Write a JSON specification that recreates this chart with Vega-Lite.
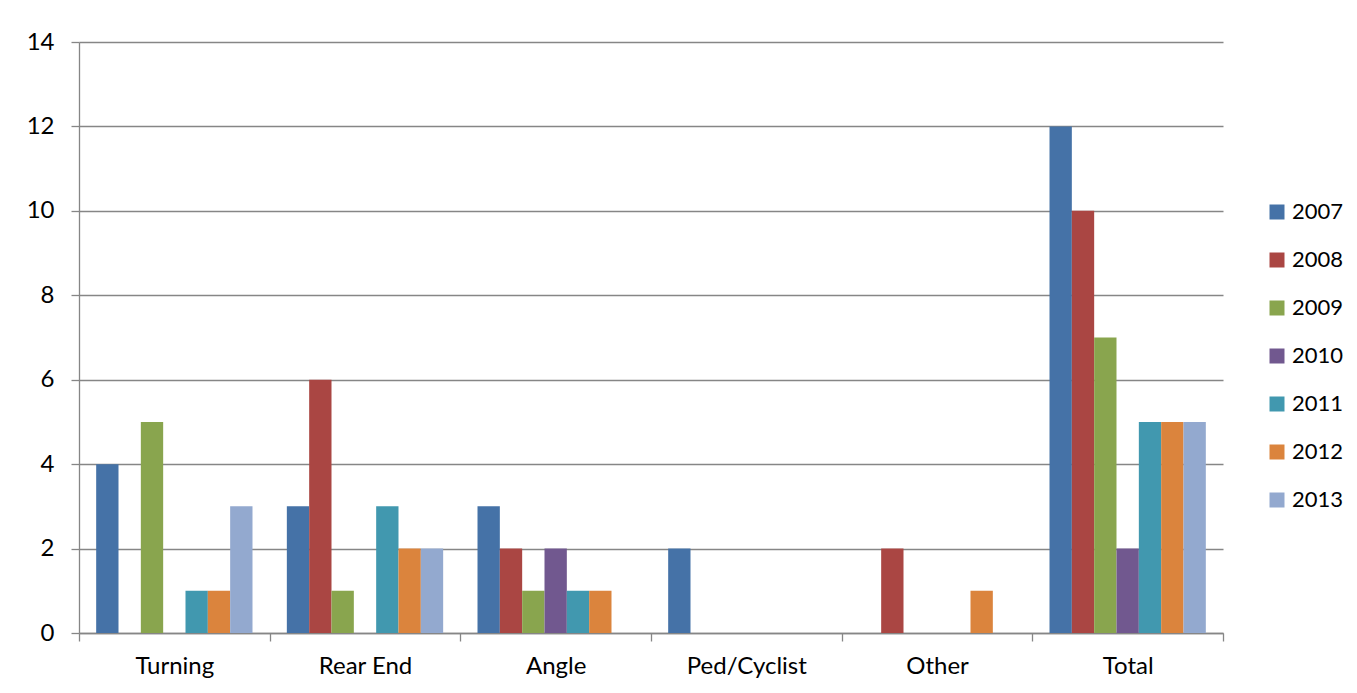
{
  "$schema": "https://vega.github.io/schema/vega-lite/v6.json",
  "width": 1144,
  "height": 591,
  "autosize": {"type": "none"},
  "padding": {"left": 79, "top": 42, "right": 134, "bottom": 60},
  "background": "white",
  "config": {
    "view": {"stroke": null},
    "font": "Lato",
    "axis": {"labelFont": "Lato", "labelColor": "#000000", "domainColor": "#868686", "tickColor": "#868686", "gridColor": "#868686", "domainWidth": 1.3, "tickWidth": 1.3, "gridWidth": 1.3}
  },
  "data": {
    "values": [
      {"cat": "Turning", "year": "2007", "v": 4},
      {"cat": "Turning", "year": "2008", "v": 0},
      {"cat": "Turning", "year": "2009", "v": 5},
      {"cat": "Turning", "year": "2010", "v": 0},
      {"cat": "Turning", "year": "2011", "v": 1},
      {"cat": "Turning", "year": "2012", "v": 1},
      {"cat": "Turning", "year": "2013", "v": 3},
      {"cat": "Rear End", "year": "2007", "v": 3},
      {"cat": "Rear End", "year": "2008", "v": 6},
      {"cat": "Rear End", "year": "2009", "v": 1},
      {"cat": "Rear End", "year": "2010", "v": 0},
      {"cat": "Rear End", "year": "2011", "v": 3},
      {"cat": "Rear End", "year": "2012", "v": 2},
      {"cat": "Rear End", "year": "2013", "v": 2},
      {"cat": "Angle", "year": "2007", "v": 3},
      {"cat": "Angle", "year": "2008", "v": 2},
      {"cat": "Angle", "year": "2009", "v": 1},
      {"cat": "Angle", "year": "2010", "v": 2},
      {"cat": "Angle", "year": "2011", "v": 1},
      {"cat": "Angle", "year": "2012", "v": 1},
      {"cat": "Angle", "year": "2013", "v": 0},
      {"cat": "Ped/Cyclist", "year": "2007", "v": 2},
      {"cat": "Ped/Cyclist", "year": "2008", "v": 0},
      {"cat": "Ped/Cyclist", "year": "2009", "v": 0},
      {"cat": "Ped/Cyclist", "year": "2010", "v": 0},
      {"cat": "Ped/Cyclist", "year": "2011", "v": 0},
      {"cat": "Ped/Cyclist", "year": "2012", "v": 0},
      {"cat": "Ped/Cyclist", "year": "2013", "v": 0},
      {"cat": "Other", "year": "2007", "v": 0},
      {"cat": "Other", "year": "2008", "v": 2},
      {"cat": "Other", "year": "2009", "v": 0},
      {"cat": "Other", "year": "2010", "v": 0},
      {"cat": "Other", "year": "2011", "v": 0},
      {"cat": "Other", "year": "2012", "v": 1},
      {"cat": "Other", "year": "2013", "v": 0},
      {"cat": "Total", "year": "2007", "v": 12},
      {"cat": "Total", "year": "2008", "v": 10},
      {"cat": "Total", "year": "2009", "v": 7},
      {"cat": "Total", "year": "2010", "v": 2},
      {"cat": "Total", "year": "2011", "v": 5},
      {"cat": "Total", "year": "2012", "v": 5},
      {"cat": "Total", "year": "2013", "v": 5}
    ]
  },
  "mark": {"type": "bar"},
  "encoding": {
    "x": {
      "field": "cat",
      "type": "nominal",
      "sort": ["Turning", "Rear End", "Angle", "Ped/Cyclist", "Other", "Total"],
      "scale": {"paddingInner": 0, "paddingOuter": 0},
      "axis": {"title": null, "labelAngle": 0, "labelFontSize": 24, "labelPadding": 13, "tickBand": "extent", "tickSize": 8, "grid": false}
    },
    "xOffset": {
      "field": "year",
      "type": "nominal",
      "scale": {"paddingInner": 0, "paddingOuter": 0.769}
    },
    "y": {
      "field": "v",
      "type": "quantitative",
      "scale": {"domain": [0, 14], "nice": false},
      "axis": {"title": null, "values": [0, 2, 4, 6, 8, 10, 12, 14], "labelFontSize": 24, "labelPadding": 17, "tickSize": 8, "grid": true}
    },
    "color": {
      "field": "year",
      "type": "nominal",
      "scale": {
        "domain": ["2007", "2008", "2009", "2010", "2011", "2012", "2013"],
        "range": ["#4572A7", "#AA4643", "#89A54E", "#71588F", "#4198AF", "#DB843D", "#93A9CF"]
      },
      "legend": {
        "title": null,
        "orient": "none",
        "legendX": 1187,
        "legendY": 159,
        "symbolType": "square",
        "symbolSize": 225,
        "symbolStrokeWidth": 0,
        "labelFontSize": 22,
        "labelFont": "Lato",
        "labelColor": "#000000",
        "labelOffset": 4,
        "rowPadding": 26
      }
    }
  }
}
